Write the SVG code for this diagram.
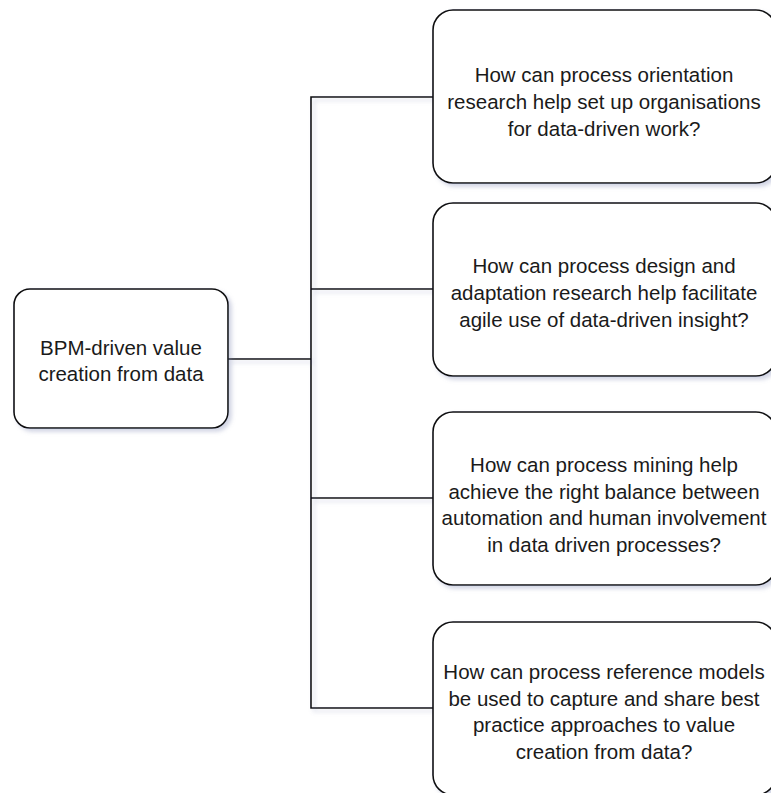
<svg xmlns="http://www.w3.org/2000/svg" width="771" height="793" viewBox="0 0 771 793">
<defs>
<filter id="sh" x="-10%" y="-10%" width="130%" height="130%">
<feDropShadow dx="3" dy="3" stdDeviation="2" flood-color="#7d86b0" flood-opacity="0.35"/>
</filter>
<style>
.box{fill:#ffffff;stroke:#111111;stroke-width:1.6;filter:url(#sh)}
.lbl{font-family:"Liberation Sans",Arial,Helvetica,sans-serif;font-size:20.5px;fill:#1a1a1a;text-anchor:middle}
.con{fill:none;stroke:#111111;stroke-width:1.6}
</style>
</defs>
<rect width="771" height="793" fill="#ffffff"/>
<g id="connectors" filter="url(#sh)">
<path class="con" d="M228,359 H311"/>
<path class="con" d="M433,97 H311 V708 H433"/>
<path class="con" d="M311,289 H433"/>
<path class="con" d="M311,498 H433"/>
</g>
<g id="root">
<rect class="box" x="14" y="289" width="214" height="139" rx="16" ry="16"/>
<text class="lbl" x="121" y="355">BPM-driven value</text>
<text class="lbl" x="121" y="381">creation from data</text>
</g>
<g id="q1">
<rect class="box" x="433" y="10" width="343" height="173" rx="20" ry="20"/>
<text class="lbl" x="604" y="82">How can process orientation</text>
<text class="lbl" x="604" y="109">research help set up organisations</text>
<text class="lbl" x="604" y="136">for data-driven work?</text>
</g>
<g id="q2">
<rect class="box" x="433" y="203" width="343" height="173" rx="20" ry="20"/>
<text class="lbl" x="604" y="273">How can process design and</text>
<text class="lbl" x="604" y="300">adaptation research help facilitate</text>
<text class="lbl" x="604" y="327">agile use of data-driven insight?</text>
</g>
<g id="q3">
<rect class="box" x="433" y="412" width="343" height="173" rx="20" ry="20"/>
<text class="lbl" x="604" y="472">How can process mining help</text>
<text class="lbl" x="604" y="499">achieve the right balance between</text>
<text class="lbl" x="604" y="525">automation and human involvement</text>
<text class="lbl" x="604" y="552">in data driven processes?</text>
</g>
<g id="q4">
<rect class="box" x="433" y="622" width="343" height="173" rx="20" ry="20"/>
<text class="lbl" x="604" y="679">How can process reference models</text>
<text class="lbl" x="604" y="706">be used to capture and share best</text>
<text class="lbl" x="604" y="732">practice approaches to value</text>
<text class="lbl" x="604" y="759">creation from data?</text>
</g>
</svg>
